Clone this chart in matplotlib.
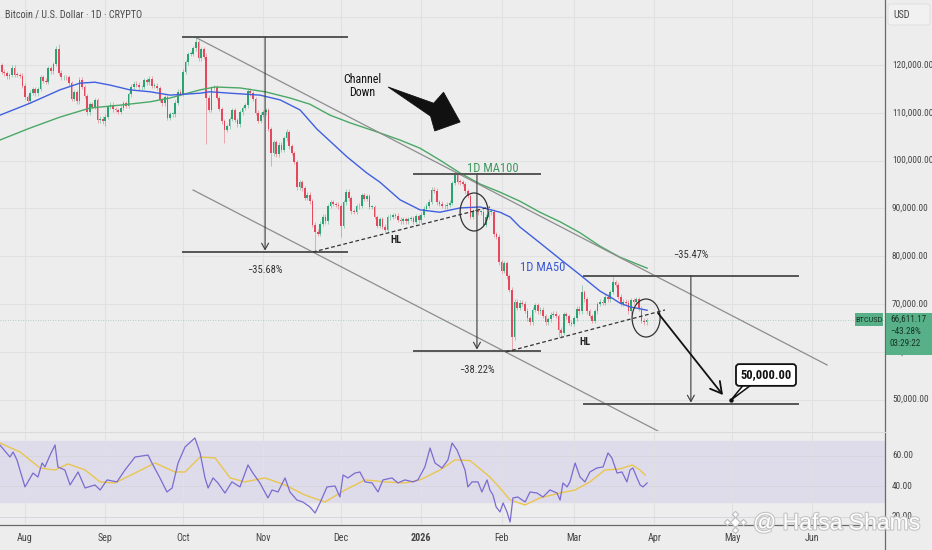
import numpy as np
import matplotlib
matplotlib.use("Agg")
import matplotlib.pyplot as plt
from matplotlib import font_manager as fm
from matplotlib.patches import Ellipse, Polygon, FancyBboxPatch, Rectangle
from matplotlib.lines import Line2D
import matplotlib.transforms as mtrans
import matplotlib.patheffects as pe

names = {f.name for f in fm.fontManager.ttflist}
NARROW = next((n for n in ["Liberation Sans Narrow", "Roboto Condensed", "Open Sans Condensed",
                           "Liberation Sans", "DejaVu Sans"] if n in names), "DejaVu Sans")
plt.rcParams["font.family"] = [NARROW, "DejaVu Sans"]

# ---------------- data (prices in thousands USD, day 0 = 1 Aug 2025) ----------------
start_day = -10          # 22 Jul 2025
first_open = 117.4
closes = [
    # Jul 22-31
    119.9, 118.6, 118.3, 117.6, 117.9, 119.4, 118.0, 117.9, 117.8, 115.7,
    # Aug
    113.3, 112.5, 114.2, 115.0, 114.1, 115.0, 117.5, 116.7, 116.5, 119.3,
    118.7, 120.2, 123.3, 118.4, 117.4, 117.5, 117.4, 116.2, 112.9, 114.3,
    112.4, 116.9, 115.4, 113.5, 110.1, 111.8, 111.3, 112.6, 108.4, 108.8, 108.2,
    # Sep
    109.2, 111.2, 111.7, 110.7, 110.6, 110.2, 111.1, 112.0, 111.5, 113.9,
    115.5, 116.1, 115.9, 115.3, 115.4, 116.8, 116.4, 117.1, 115.7, 115.7,
    115.2, 112.7, 112.0, 113.3, 109.0, 109.7, 109.7, 112.1, 114.4, 114.0,
    # Oct
    118.6, 120.6, 122.3, 122.4, 123.5, 124.8, 121.4, 123.3, 121.7, 113.2,
    110.6, 115.2, 115.3, 113.1, 110.8, 108.2, 106.4, 107.2, 108.7, 110.6,
    108.5, 107.6, 110.1, 111.0, 111.6, 114.6, 114.1, 112.9, 110.0, 108.3, 109.6,
    # Nov
    110.1, 110.5, 106.6, 101.5, 103.9, 101.3, 103.3, 102.3, 104.7, 106.0,
    103.0, 101.6, 99.7, 94.4, 95.5, 94.2, 92.2, 92.9, 91.5, 86.6,
    85.1, 84.7, 86.8, 88.3, 87.3, 90.5, 91.3, 90.9, 90.8, 90.4,
    # Dec
    86.3, 91.3, 93.5, 92.1, 89.4, 89.3, 90.4, 90.6, 92.7, 92.0,
    92.5, 90.3, 90.3, 88.2, 86.4, 87.8, 86.2, 85.5, 88.1, 88.3,
    88.6, 88.5, 87.6, 87.3, 87.7, 87.3, 87.8, 87.9, 87.2, 88.4, 87.5,
    # Jan 2026
    88.7, 89.9, 90.6, 91.4, 93.9, 93.7, 91.3, 91.0, 90.5, 90.4,
    90.8, 91.2, 95.3, 97.0, 95.6, 95.5, 95.1, 93.6, 92.6, 88.3,
    89.4, 89.5, 89.2, 89.2, 86.6, 88.3, 89.2, 89.3, 84.6, 84.1, 78.7,
    # Feb
    76.9, 78.6, 75.8, 73.0, 63.0, 70.5, 69.2, 70.3, 70.1, 68.6,
    67.0, 66.2, 68.8, 69.8, 68.5, 68.8, 67.5, 66.2, 66.8, 67.8,
    68.0, 67.5, 64.6, 64.0, 67.9, 67.4, 66.1, 65.9,
    # Mar 1-29
    67.0, 69.0, 68.5, 72.5, 71.0, 68.5, 67.5, 66.5, 68.5, 70.0,
    70.5, 70.3, 71.5, 71.0, 72.5, 74.5, 74.0, 71.5, 70.0, 70.5,
    70.3, 68.5, 70.8, 70.5, 71.0, 69.0, 66.5, 66.2, 66.61,
]
high_marks = {2: 114.8, 12: 124.0, 13: 124.4, 66: 126.0, 70: 122.5, 101: 106.6,
              166: 97.9, 215: 74.0, 227: 76.0}
low_marks = {2: 112.0, 31: 107.3, 70: 103.5, 77: 103.6, 95: 98.9, 112: 80.6,
             122: 84.0, 188: 60.1, 189: 62.5, 206: 63.0, 207: 62.9}

ma50_days = [-9.7, 1.9, 13.5, 21.2, 27.0, 32.8, 40.5, 48.3, 56.0, 67.6, 71.4, 79.2, 90.7, 98.5,
             106.2, 112.7, 124.3, 132.0, 137.0, 144.8, 152.5, 160.2, 168.0, 175.7, 183.4, 187.3,
             191.1, 198.8, 206.6, 214.3, 222.0, 225.9, 229.7, 233.6, 240.2]
ma50_vals = [109.5, 112.0, 114.8, 116.2, 116.4, 115.8, 114.8, 114.4, 113.7, 114.1, 114.4, 114.1,
             113.7, 112.7, 110.6, 106.6, 100.8, 97.4, 95.5, 91.8, 89.7, 89.2, 90.1, 90.3, 89.2,
             88.2, 86.1, 82.8, 79.4, 76.1, 72.7, 71.5, 70.2, 69.4, 68.7]
ma100_days = [-9.7, 1.9, 13.5, 25.1, 36.7, 48.3, 56.0, 67.6, 73.4, 83.0, 92.7, 102.3, 110.0, 117.8,
              125.5, 137.0, 144.8, 152.5, 160.2, 168.0, 175.7, 183.4, 191.1, 198.8, 206.6, 214.3,
              222.0, 229.7, 240.2]
ma100_vals = [104.3, 106.8, 109.1, 111.0, 111.6, 112.3, 113.1, 114.8, 115.4, 115.2, 114.4, 113.1,
              111.8, 109.5, 107.9, 105.8, 104.3, 102.6, 100.1, 97.4, 95.1, 93.4, 91.5, 89.2, 87.2,
              84.9, 82.1, 79.8, 77.5]

rsi_days = [-9.7, -5.8, -4.6, -3.1, 0, 3.1, 5.0, 6.6, 7.7, 9.7,
            11.6, 12.7, 15.4, 17.4, 20.5, 23.2, 27.0, 29.0, 31.7, 35.5,
            38.6, 42.5, 47.5, 49.0, 52.1, 54.8, 56.8, 59.1, 61.8, 65.6,
            67.6, 69.5, 70.7, 72.6, 74.5, 77.2, 79.9, 83.0, 86.1, 88.0,
            90.7, 93.8, 95.4, 97.7, 100.4, 102.3, 105.0, 107.3, 110.0, 112.0,
            113.9, 116.6, 119.7, 121.6, 122.8, 124.7, 127.4, 129.3, 131.3, 134.0,
            136.3, 138.2, 141.7, 144.0, 146.7, 149.8, 151.7, 154.4, 156.4, 158.3,
            161.0, 163.3, 164.9, 166.8, 169.9, 171.0, 172.6, 174.9, 176.4, 178.4,
            179.5, 180.7, 181.9, 183.4, 184.6, 186.1, 187.3, 188.4, 190.3, 193.1,
            195.0, 197.7, 200.0, 202.7, 205.4, 206.6, 207.7, 209.3, 210.4, 212.4,
            214.3, 216.2, 218.1, 220.8, 223.2, 225.1, 226.6, 228.6, 230.5, 232.4,
            233.6, 234.7, 236.3, 237.5, 238.6, 240.2]
rsi_vals = [67.2, 59.3, 62.6, 57.4, 39.7, 48.8, 46.2, 55.4, 52.8, 60.6,
            67.2, 52.8, 50.8, 41.0, 49.5, 39.0, 41.0, 37.7, 44.3, 43.0,
            50.8, 59.3, 60.6, 55.4, 45.6, 36.4, 39.0, 55.4, 65.9, 71.8,
            62.0, 45.6, 39.0, 45.6, 42.3, 35.7, 43.0, 39.7, 54.1, 48.8,
            42.3, 32.5, 37.7, 36.4, 45.6, 36.4, 31.1, 29.8, 26.6, 22.6,
            29.2, 39.7, 40.3, 33.1, 47.5, 45.6, 48.8, 49.5, 43.0, 42.3,
            36.4, 44.3, 45.6, 42.3, 44.3, 43.0, 44.3, 52.8, 65.2, 55.4,
            52.1, 57.4, 68.5, 63.9, 50.8, 39.7, 43.0, 43.0, 36.4, 44.3,
            37.7, 34.4, 26.6, 23.3, 29.2, 23.3, 16.7, 32.5, 33.1, 29.8,
            36.4, 35.7, 33.1, 37.7, 35.7, 31.1, 42.3, 39.7, 43.0, 55.4,
            46.2, 43.0, 49.5, 52.1, 52.8, 62.0, 58.7, 48.8, 49.5, 43.0,
            50.8, 52.1, 45.6, 41.0, 39.7, 42.3]
rsi_ma_days = [-9.7, -1.9, 5.8, 11.6, 16.6, 23.2, 29.0, 34.7, 42.5, 50.2,
               57.9, 61.8, 67.6, 73.4, 79.2, 84.9, 92.7, 100.4, 108.1, 115.8,
               123.6, 131.3, 139.0, 146.7, 152.5, 160.2, 166.0, 171.8, 179.5, 183.4,
               187.3, 193.1, 198.8, 206.6, 212.4, 218.1, 223.9, 229.7, 234.4, 237.5, 239.4]
rsi_ma_vals = [68.5, 62.6, 52.1, 50.8, 54.8, 50.8, 43.0, 42.3, 48.8, 55.4,
               49.5, 49.5, 59.3, 58.7, 45.6, 43.0, 45.6, 41.0, 34.4, 29.8,
               37.7, 44.3, 43.0, 42.3, 44.3, 50.8, 57.4, 57.0, 46.2, 39.0,
               31.1, 27.9, 32.5, 35.7, 37.7, 43.0, 50.8, 51.5, 54.1, 50.8, 47.5]

month_days = [0, 31, 61, 92, 122, 153, 184, 212, 243, 273, 304]
month_labels = ["Aug", "Sep", "Oct", "Nov", "Dec", "2026", "Feb", "Mar", "Apr", "May", "Jun"]
price_ticks = [120, 110, 100, 90, 80, 70, 60, 50]
rsi_ticks = [60, 40, 20]
last_price = 66.61117

# ---------------- style ----------------
BG = "#ededed"
GRID = "#e1e1e1"
GREEN = "#2aa372"
RED = "#e5485d"
BLUE = "#3f5fe0"
MAGREEN = "#4aa866"
TXT = "#333333"
WICK = 0.5

W, H = 932, 550
def fx(px): return px / W
def fy(py): return 1 - py / H

fig = plt.figure(figsize=(9.32, 5.5), dpi=100, facecolor=BG)
ax = fig.add_axes([0, fy(431), fx(885), 431 / H])
ax2 = fig.add_axes([0, fy(525), fx(885), (525 - 432) / H])
for a in (ax, ax2):
    a.set_facecolor(BG)
    for s in a.spines.values():
        s.set_visible(False)
    a.set_xticks([]); a.set_yticks([])
    a.set_xlim(-9.65, 332.05)
ax.set_ylim(43.433, 133.598)
ax2.set_ylim(14.75, 75.7)

# grid
for d in month_days:
    ax.axvline(d, color=GRID, lw=0.8, zorder=0)
    ax2.axvline(d, color=GRID, lw=0.8, zorder=1)
for p in range(50, 140, 10):
    ax.axhline(p, color=GRID, lw=0.8, zorder=0)

# candles
c = np.array(closes)
days = np.arange(start_day, start_day + len(c))
o = np.concatenate([[first_open], c[:-1]])
hi = np.maximum(o, c) + WICK
lo = np.minimum(o, c) - WICK
for d, v in high_marks.items():
    hi[d - start_day] = v
for d, v in low_marks.items():
    lo[d - start_day] = v
col = np.where(c >= o, GREEN, RED)
ax.vlines(days, lo, hi, colors=col, lw=0.6, alpha=0.5, zorder=3)
ax.bar(days, np.maximum(np.abs(c - o), 0.18), bottom=np.minimum(o, c), width=0.66,
       color=col, linewidth=0, zorder=4)

# moving averages
ax.plot(ma100_days, ma100_vals, color=MAGREEN, lw=1.0, zorder=5)
ax.plot(ma50_days, ma50_vals, color=BLUE, lw=1.0, zorder=5)

# last price line
ax.axhline(last_price, color="#9cc7b0", lw=0.6, ls=(0, (1, 2)), zorder=1)

# ---------------- annotations ----------------
LC = "#3a3a3a"
ax.plot([65.6, 309.7], [125.86, 57.24], color="#8d8d8d", lw=0.9, zorder=6)
ax.plot([64.9, 244.4], [93.85, 43.43], color="#8d8d8d", lw=0.9, zorder=6)

def measure(x0, x1, xm, top, bot, label, ly):
    ax.plot([x0, x1], [top, top], color="#555555", lw=1.4, zorder=6)
    ax.plot([x0, x1], [bot, bot], color="#555555", lw=1.4, zorder=6)
    ax.annotate("", xy=(xm, bot + 0.3), xytext=(xm, top),
                arrowprops=dict(arrowstyle="->,head_length=0.45,head_width=0.25",
                                color=LC, lw=0.8, shrinkA=0, shrinkB=0), zorder=6)
    ax.text(xm, ly, label, ha="center", va="center", fontsize=7.6, color=TXT, zorder=7)

measure(61.0, 124.3, 92.7, 125.86, 80.88, "\u221235.68%", 77.11)
measure(150.2, 198.8, 174.5, 97.20, 60.17, "\u221238.22%", 56.19)
measure(215.8, 298.5, 257.1, 75.96, 49.08, "\u221235.47%", 80.25)

ax.text(130.1, 115.6, "Channel\nDown", ha="center", va="center", fontsize=8.6,
        color="#111111", linespacing=1.0, zorder=7)
arrow_pts = [(140.2, 115.4), (157.8, 112.0), (161.6, 114.3), (168.0, 108.08),
             (158.2, 106.2), (156.6, 109.3)]
ax.add_patch(Polygon(arrow_pts, closed=True, fc="#111111", ec="#111111", lw=0.6, zorder=7))

ax.text(180.7, 98.4, "1D MA100", ha="center", va="center", fontsize=9, color="#3f9a5e", zorder=7)
ax.text(200.0, 77.74, "1D MA50", ha="center", va="center", fontsize=9, color="#3a58d4", zorder=7)

ax.add_patch(Ellipse((173.4, 89.25), 10.8, 7.95, fill=False, ec="#333333", lw=0.9, zorder=7))
ax.add_patch(Ellipse((239.8, 67.07), 10.8, 7.95, fill=False, ec="#333333", lw=0.9, zorder=7))

ax.plot([111.2, 179.5], [80.88, 90.29], color="#333333", lw=0.9, ls=(0, (3, 2)), zorder=6)
ax.plot([185.7, 247.1], [59.96, 68.75], color="#333333", lw=0.9, ls=(0, (3, 2)), zorder=6)
ax.text(143.2, 83.39, "HL", ha="center", va="center", fontsize=7.2, fontweight="bold",
        color="#222222", zorder=7)
ax.text(216.2, 62.05, "HL", ha="center", va="center", fontsize=7.2, fontweight="bold",
        color="#222222", zorder=7)

ax.annotate("", xy=(269.5, 50.96), xytext=(244.4, 68.12),
            arrowprops=dict(arrowstyle="->,head_length=0.8,head_width=0.45",
                            color="#111111", lw=1.3, shrinkA=0, shrinkB=0), zorder=7)
ax.add_patch(Polygon([(277.6, 53.2), (272.6, 49.92), (280.7, 53.2)], closed=True,
                     fc="white", ec="#111111", lw=1.1, zorder=7))
ax.plot([272.6], [49.92], marker="o", ms=2.2, color="#111111", zorder=8)
ax.text(286.1, 55.15, "50,000.00", ha="center", va="center", fontsize=9, fontweight="bold",
        color="#111111", zorder=9,
        bbox=dict(boxstyle="round,pad=0.35,rounding_size=0.25", fc="white", ec="#111111", lw=1.3))

# ---------------- RSI ----------------
ax2.axhspan(30, 70, color="#dedbea", zorder=0)
for v in rsi_ticks:
    ax2.axhline(v, color="#d6d6de", lw=0.7, zorder=1)
ax2.plot(rsi_ma_days, rsi_ma_vals, color="#eac64e", lw=1.0, zorder=3)
ax2.plot(rsi_days, rsi_vals, color="#7b6bd0", lw=0.9, zorder=4)

# ---------------- frame, axis labels ----------------
fig.add_artist(Line2D([fx(885), fx(885)], [0, 1], transform=fig.transFigure, color="#6a6a6a", lw=0.9))
fig.add_artist(Line2D([0, fx(885)], [fy(525), fy(525)], transform=fig.transFigure, color="#6a6a6a", lw=0.9))
fig.add_artist(Line2D([0, fx(885)], [fy(431.5), fy(431.5)], transform=fig.transFigure, color="#dadada", lw=0.8))

tp = mtrans.blended_transform_factory(fig.transFigure, ax.transData)
for p in price_ticks:
    fig.text(fx(892), p, f"{p * 1000:,.2f}", transform=tp, fontsize=6.7, color="#444444",
             ha="left", va="center")
tr = mtrans.blended_transform_factory(fig.transFigure, ax2.transData)
for v in rsi_ticks:
    fig.text(fx(892), v, f"{v:.2f}", transform=tr, fontsize=6.7, color="#444444",
             ha="left", va="center")
tx = mtrans.blended_transform_factory(ax.transData, fig.transFigure)
for d, lab in zip(month_days, month_labels):
    fig.text(d, fy(538), lab, transform=tx, fontsize=7.2, color="#444444", ha="center",
             va="center", fontweight="bold" if lab == "2026" else "normal")

fig.text(fx(5), fy(14), "Bitcoin / U.S. Dollar \u00b7 1D \u00b7 CRYPTO", fontsize=7.3,
         color="#4a4a4a", ha="left", va="center")
fig.add_artist(FancyBboxPatch((fx(888), fy(25)), fx(42), 21 / H, transform=fig.transFigure,
                              boxstyle="round,pad=0,rounding_size=0.004", fc="#f1f1f1",
                              ec="#dddddd", lw=0.6))
fig.text(fx(893), fy(14.5), "USD", fontsize=7.2, color="#444444", ha="left", va="center")

# current price labels
fig.add_artist(Rectangle((fx(885.5), fy(355)), fx(46.5), 42 / H, transform=fig.transFigure,
                         fc="#58b088", ec="none", zorder=5))
fig.add_artist(Rectangle((fx(855), fy(326)), fx(28), 13 / H, transform=fig.transFigure,
                         fc="#58b088", ec="none", zorder=5))
fig.text(fx(869), fy(319.5), "BTCUSD", fontsize=6.0, color="#173424", ha="center",
         va="center", zorder=6)
for yy, s in [(319, "66,611.17"), (331, "\u221243.28%"), (343, "03:29:22")]:
    fig.text(fx(890), fy(yy), s, fontsize=6.6, color="#173424", ha="left", va="center", zorder=6)

# watermark
for (dx, dy, ms) in [(0, 0, 5.5), (-8, 0, 3.2), (8, 0, 3.2), (0, -8, 3.2), (0, 8, 3.2)]:
    fig.add_artist(Line2D([fx(735 + dx)], [fy(522 + dy)], transform=fig.transFigure, marker="D",
                          ms=ms, mfc="white", mec="#bdbdbd", mew=0.8, ls="none", zorder=10))
fig.text(fx(753), fy(523), "@ Hafsa Shams", fontsize=16.5, color="white", ha="left", va="center",
         family=["Liberation Sans", "DejaVu Sans"], zorder=10,
         path_effects=[pe.withStroke(linewidth=1.6, foreground="#c4c4c4")])

fig.savefig("out.png", dpi=100, facecolor=BG)
